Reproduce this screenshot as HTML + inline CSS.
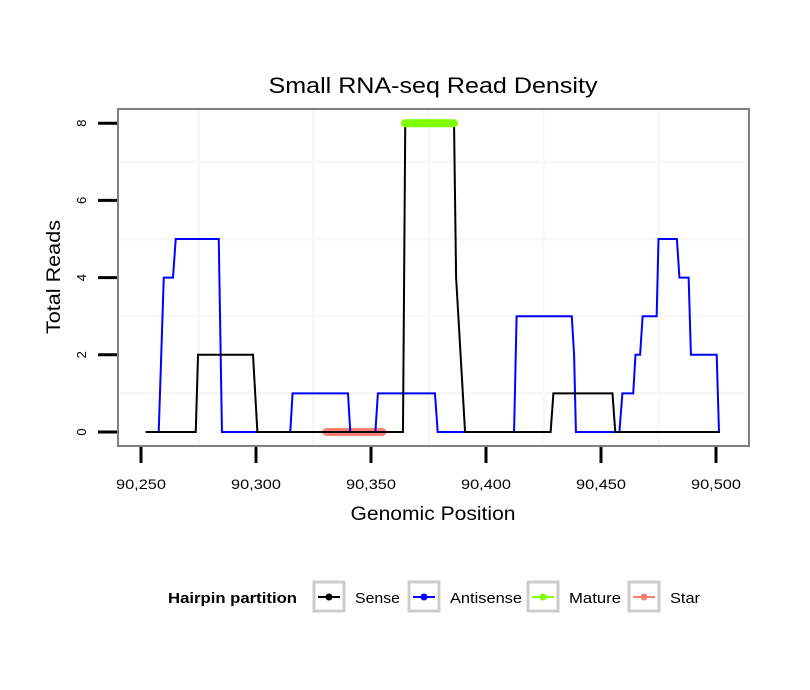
<!DOCTYPE html>
<html><head><meta charset="utf-8"><style>
body{margin:0;background:#fff;}
svg{display:block;font-family:"Liberation Sans",sans-serif;}
</style></head><body>
<svg id="chart" width="810" height="690">
<rect x="0" y="0" width="810" height="690" fill="#fff"/>
<text x="433" y="93" text-anchor="middle" font-size="22" textLength="329" lengthAdjust="spacingAndGlyphs">Small RNA-seq Read Density</text>
<rect x="118" y="109" width="631" height="337" fill="#fff"/>
<g id="grid"></g>
<g id="series"></g>
<rect x="118" y="109" width="631" height="337" fill="none" stroke="#7f7f7f" stroke-width="2"/>
<g id="axes"></g>
<text x="433" y="520" text-anchor="middle" font-size="19" textLength="165" lengthAdjust="spacingAndGlyphs">Genomic Position</text>
<text transform="translate(60,277) rotate(-90)" text-anchor="middle" font-size="19" textLength="114" lengthAdjust="spacingAndGlyphs">Total Reads</text>
<g id="legend">
<text x="168" y="603" font-size="15" font-weight="bold" textLength="129" lengthAdjust="spacingAndGlyphs">Hairpin partition</text>
</g>
</svg>
<script>
const xTicks=[90250,90300,90350,90400,90450,90500];
const xTickLabels=["90,250","90,300","90,350","90,400","90,450","90,500"];
const yTicks=[0,2,4,6,8];
const xGrid=[90275,90325,90375,90425,90475];
const yGrid=[1,3,5,7];
const senseX=[90252,90273.8,90274.8,90298.7,90300.6,90363.9,90364.9,90386.1,90387,90390.9,90428.1,90429.3,90455,90456.2,90501.7];
const senseY=[0,0,2,2,0,0,8,8,4,0,0,1,1,0,0];
const antiX=[90257.7,90259.9,90263.9,90265.1,90283.8,90285.2,90314.9,90315.9,90340,90341,90351.9,90353,90377.8,90379,90412.2,90413.3,90437.3,90438.3,90439.1,90458,90459.3,90464,90465,90467,90468.1,90474.2,90475,90483,90484.1,90488.1,90489.1,90500.3,90501.3];
const antiY=[0,4,4,5,5,0,0,1,1,0,0,1,1,0,0,3,3,2,0,0,1,1,2,2,3,3,5,5,4,4,2,2,0];
const matureX=[90364.8,90386.1];
const matureY=[8,8];
const starX=[90330.6,90354.9];
const starY=[0,0];
const categories=["Sense","Antisense","Mature","Star"];
const colors=["#000000","#0000ff","#7fff00","#fa8072"];

const NS="http://www.w3.org/2000/svg";
const xs=v=>141+(v-90250)*2.3;
const ys=v=>432-v*38.6;
function mk(tag,attrs,parent){const e=document.createElementNS(NS,tag);for(const k in attrs)e.setAttribute(k,attrs[k]);parent.appendChild(e);return e;}
const grid=document.getElementById('grid'),series=document.getElementById('series'),axes=document.getElementById('axes'),legend=document.getElementById('legend');
xGrid.forEach(v=>{const l=mk('line',{x1:xs(v),x2:xs(v),y1:110,y2:445,stroke:'#f8f8f8','stroke-width':3},grid);

});
yGrid.forEach(v=>{const l=mk('line',{x1:119,x2:748,y1:ys(v),y2:ys(v),stroke:'#f8f8f8','stroke-width':3},grid);

});
function pts(X,Y){return X.map((x,i)=>xs(x)+','+ys(Y[i])).join(' ');}
const star=mk('polyline',{points:pts(starX,starY),fill:'none',stroke:colors[3],'stroke-width':8,'stroke-linecap':'round'},series);


const anti=mk('polyline',{points:pts(antiX,antiY),fill:'none',stroke:colors[1],'stroke-width':2},series);


const sense=mk('polyline',{points:pts(senseX,senseY),fill:'none',stroke:colors[0],'stroke-width':2},series);


const mat=mk('polyline',{points:pts(matureX,matureY),fill:'none',stroke:colors[2],'stroke-width':8,'stroke-linecap':'round'},series);


xTicks.forEach((v,i)=>{const t=mk('line',{x1:xs(v),x2:xs(v),y1:447,y2:463,stroke:'#000','stroke-width':3},axes);


const tx=mk('text',{x:xs(v),y:489,'text-anchor':'middle','font-size':14,textLength:50,lengthAdjust:'spacingAndGlyphs'},axes);tx.textContent=xTickLabels[i];

});
yTicks.forEach(v=>{const t=mk('line',{x1:98,x2:117,y1:ys(v),y2:ys(v),stroke:'#000','stroke-width':3},axes);


const tx=mk('text',{transform:`translate(86,${ys(v)}) rotate(-90)`,'text-anchor':'middle','font-size':13},axes);tx.textContent=v;

});
const boxX=[313,408,527,628];
const textW=[45,72,52,30];
categories.forEach((c,i)=>{const g=mk('g',{},legend);


mk('rect',{x:boxX[i]+1,y:582,width:30,height:29,fill:'#fff',stroke:'#cccccc','stroke-width':3},g);
mk('line',{x1:boxX[i]+5,x2:boxX[i]+27,y1:597,y2:597,stroke:colors[i],'stroke-width':2},g);
mk('circle',{cx:boxX[i]+16,cy:597,r:3.5,fill:colors[i]},g);
const t=mk('text',{x:boxX[i]+42,y:603,'font-size':15,textLength:textW[i],lengthAdjust:'spacingAndGlyphs'},g);t.textContent=c;});
</script>
</body></html>
